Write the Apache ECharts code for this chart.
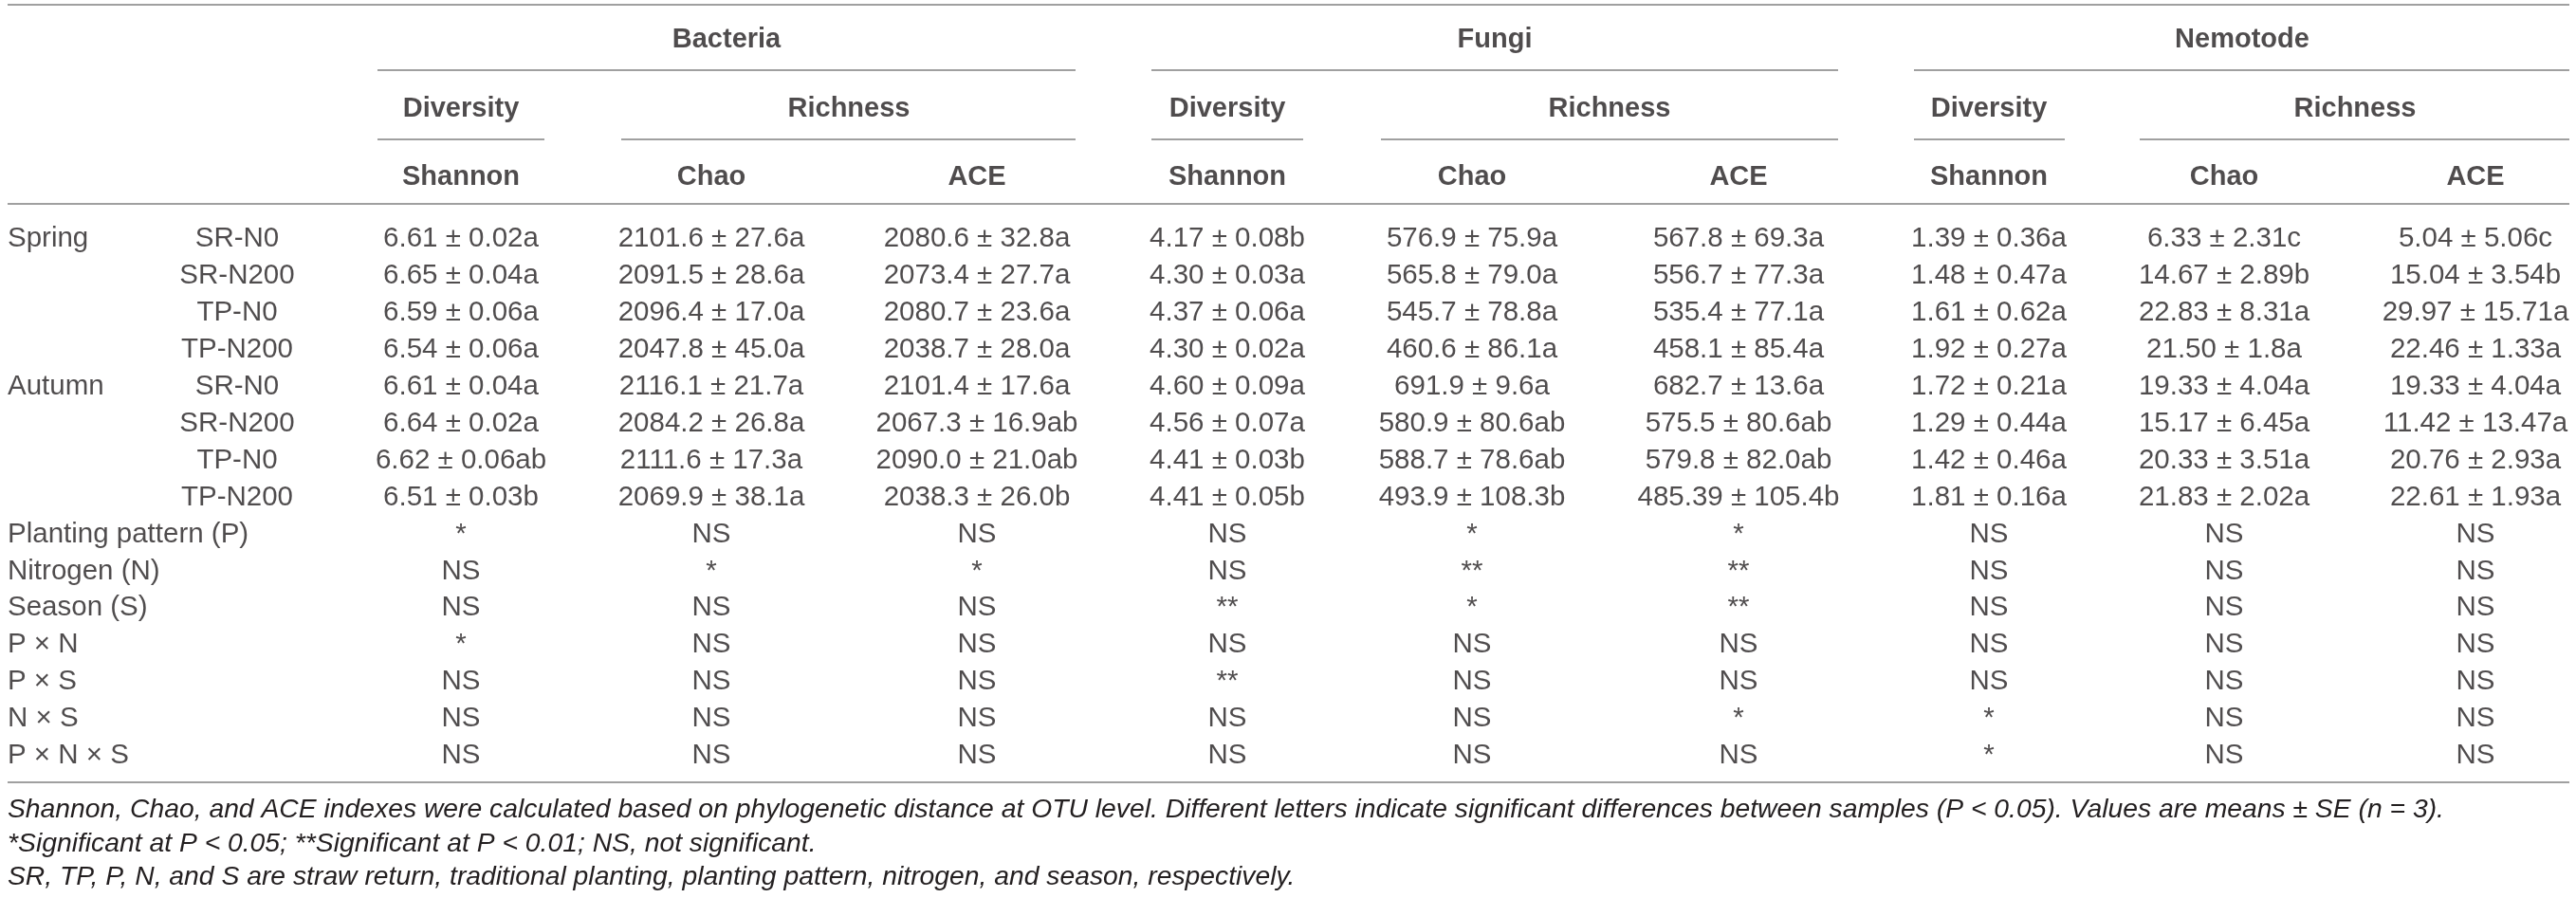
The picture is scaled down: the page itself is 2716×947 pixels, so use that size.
<!DOCTYPE html>
<html>
<head>
<meta charset="utf-8">
<script src="https://cdn.jsdelivr.net/npm/echarts@6/dist/echarts.min.js"></script>
<style>
  html, body { margin: 0; padding: 0; background: #fff; }
  #container { width: 2716px; height: 947px; }
</style>
</head>
<body>
<div id="container"></div>
<script>
// ---- table content ----
var groups = ['Bacteria', 'Fungi', 'Nemotode'];
var subHeads = ['Diversity', 'Richness'];
var indexes = ['Shannon', 'Chao', 'ACE'];
var seasons = ['Spring', 'Autumn'];
var treatments = ['SR-N0', 'SR-N200', 'TP-N0', 'TP-N200'];
var effects = ['Planting pattern (P)', 'Nitrogen (N)', 'Season (S)', 'P \u00d7 N', 'P \u00d7 S', 'N \u00d7 S', 'P \u00d7 N \u00d7 S'];

var bacShannon = ['6.61 ± 0.02a', '6.65 ± 0.04a', '6.59 ± 0.06a', '6.54 ± 0.06a', '6.61 ± 0.04a', '6.64 ± 0.02a', '6.62 ± 0.06ab', '6.51 ± 0.03b'];
var bacChao = ['2101.6 ± 27.6a', '2091.5 ± 28.6a', '2096.4 ± 17.0a', '2047.8 ± 45.0a', '2116.1 ± 21.7a', '2084.2 ± 26.8a', '2111.6 ± 17.3a', '2069.9 ± 38.1a'];
var bacAce = ['2080.6 ± 32.8a', '2073.4 ± 27.7a', '2080.7 ± 23.6a', '2038.7 ± 28.0a', '2101.4 ± 17.6a', '2067.3 ± 16.9ab', '2090.0 ± 21.0ab', '2038.3 ± 26.0b'];
var funShannon = ['4.17 ± 0.08b', '4.30 ± 0.03a', '4.37 ± 0.06a', '4.30 ± 0.02a', '4.60 ± 0.09a', '4.56 ± 0.07a', '4.41 ± 0.03b', '4.41 ± 0.05b'];
var funChao = ['576.9 ± 75.9a', '565.8 ± 79.0a', '545.7 ± 78.8a', '460.6 ± 86.1a', '691.9 ± 9.6a', '580.9 ± 80.6ab', '588.7 ± 78.6ab', '493.9 ± 108.3b'];
var funAce = ['567.8 ± 69.3a', '556.7 ± 77.3a', '535.4 ± 77.1a', '458.1 ± 85.4a', '682.7 ± 13.6a', '575.5 ± 80.6ab', '579.8 ± 82.0ab', '485.39 ± 105.4b'];
var nemShannon = ['1.39 ± 0.36a', '1.48 ± 0.47a', '1.61 ± 0.62a', '1.92 ± 0.27a', '1.72 ± 0.21a', '1.29 ± 0.44a', '1.42 ± 0.46a', '1.81 ± 0.16a'];
var nemChao = ['6.33 ± 2.31c', '14.67 ± 2.89b', '22.83 ± 8.31a', '21.50 ± 1.8a', '19.33 ± 4.04a', '15.17 ± 6.45a', '20.33 ± 3.51a', '21.83 ± 2.02a'];
var nemAce = ['5.04 ± 5.06c', '15.04 ± 3.54b', '29.97 ± 15.71a', '22.46 ± 1.33a', '19.33 ± 4.04a', '11.42 ± 13.47a', '20.76 ± 2.93a', '22.61 ± 1.93a'];

// significance per effect row
var sigBacShannon = ['*', 'NS', 'NS', '*', 'NS', 'NS', 'NS'];
var sigBacChao = ['NS', '*', 'NS', 'NS', 'NS', 'NS', 'NS'];
var sigBacAce = ['NS', '*', 'NS', 'NS', 'NS', 'NS', 'NS'];
var sigFunShannon = ['NS', 'NS', '**', 'NS', '**', 'NS', 'NS'];
var sigFunChao = ['*', '**', '*', 'NS', 'NS', 'NS', 'NS'];
var sigFunAce = ['*', '**', '**', 'NS', 'NS', '*', 'NS'];
var sigNemShannon = ['NS', 'NS', 'NS', 'NS', 'NS', '*', '*'];
var sigNemChao = ['NS', 'NS', 'NS', 'NS', 'NS', 'NS', 'NS'];
var sigNemAce = ['NS', 'NS', 'NS', 'NS', 'NS', 'NS', 'NS'];

var notes = [
  'Shannon, Chao, and ACE indexes were calculated based on phylogenetic distance at OTU level. Different letters indicate significant differences between samples (P < 0.05). Values are means \u00b1 SE (n = 3).',
  '*Significant at P < 0.05; **Significant at P < 0.01; NS, not significant.',
  'SR, TP, P, N, and S are straw return, traditional planting, planting pattern, nitrogen, and season, respectively.'
];

// ---- layout (pixel positions on the x value axis) ----
var labelX = 8;
var treatX = 250;
var colX = [486, 750, 1030, 1294, 1552, 1833, 2097, 2345, 2610];
var groupX = [766, 1576, 2364];
var divX = [486, 1294, 2097];
var richX = [895, 1697, 2483];

var W = 2716, H = 947;
var FONT = 'Liberation Sans';
var INK = '#231f20';
var RULE = '#a0a0a0';

var valueCols = [bacShannon, bacChao, bacAce, funShannon, funChao, funAce, nemShannon, nemChao, nemAce];
var sigCols = [sigBacShannon, sigBacChao, sigBacAce, sigFunShannon, sigFunChao, sigFunAce, sigNemShannon, sigNemChao, sigNemAce];

var headRows = ['group', 'sub', 'index'];
var rowKeys = [];
for (var r = 0; r < treatments.length * seasons.length + effects.length; r++) rowKeys.push('r' + r);

// body cells
var bodyCells = [];
function cell(list, x, row, text, left) {
  list.push({
    value: [x, row],
    name: text,
    label: left ? { position: 'right', distance: 0 } : { position: 'inside' }
  });
}
seasons.forEach(function (s, i) {
  cell(bodyCells, labelX, rowKeys[i * treatments.length], s, true);
  treatments.forEach(function (t, j) {
    cell(bodyCells, treatX, rowKeys[i * treatments.length + j], t, false);
  });
});
valueCols.forEach(function (col, c) {
  col.forEach(function (v, k) { cell(bodyCells, colX[c], rowKeys[k], v, false); });
});
var off = treatments.length * seasons.length;
effects.forEach(function (e, k) { cell(bodyCells, labelX, rowKeys[off + k], e, true); });
sigCols.forEach(function (col, c) {
  col.forEach(function (v, k) { cell(bodyCells, colX[c], rowKeys[off + k], v, false); });
});

// header cells
var headCells = [];
groups.forEach(function (g, i) {
  cell(headCells, groupX[i], 'group', g, false);
  cell(headCells, divX[i], 'sub', subHeads[0], false);
  cell(headCells, richX[i], 'sub', subHeads[1], false);
  indexes.forEach(function (n, j) { cell(headCells, colX[i * 3 + j], 'index', n, false); });
});

// rules
function rule(x1, x2, y) {
  return { type: 'line', silent: true, shape: { x1: x1, y1: y, x2: x2, y2: y }, style: { stroke: RULE, lineWidth: 2 } };
}
var graphics = [
  rule(8, 2709, 5),
  rule(398, 1134, 74), rule(1214, 1938, 74), rule(2018, 2709, 74),
  rule(398, 574, 147), rule(655, 1134, 147),
  rule(1214, 1374, 147), rule(1456, 1938, 147),
  rule(2018, 2177, 147), rule(2256, 2709, 147),
  rule(8, 2709, 215),
  rule(8, 2709, 825)
];
var noteY = [854, 890, 925];
notes.forEach(function (n, i) {
  graphics.push({
    type: 'text', silent: true, left: labelX, top: noteY[i] - 14,
    style: { text: n, fill: INK, font: 'italic 28.3px "' + FONT + '"' }
  });
});

var xAxisBase = { type: 'value', min: 0, max: W, show: false };

var option = {
  backgroundColor: '#fff',
  animation: false,
  grid: [
    { left: 0, width: W, top: 6, height: 217.5 },
    { left: 0, width: W, top: 232.5, height: 584 }
  ],
  xAxis: [
    Object.assign({ gridIndex: 0 }, xAxisBase),
    Object.assign({ gridIndex: 1 }, xAxisBase)
  ],
  yAxis: [
    { gridIndex: 0, type: 'category', data: headRows, inverse: true, show: false },
    { gridIndex: 1, type: 'category', data: rowKeys, inverse: true, show: false }
  ],
  series: [
    {
      type: 'scatter', xAxisIndex: 0, yAxisIndex: 0, silent: true,
      symbolSize: 0, itemStyle: { color: 'rgba(0,0,0,0)' },
      label: { show: true, formatter: '{b}', color: INK, fontFamily: FONT, fontSize: 29, fontWeight: 'bold' },
      data: headCells
    },
    {
      type: 'scatter', xAxisIndex: 1, yAxisIndex: 1, silent: true,
      symbolSize: 0, itemStyle: { color: 'rgba(0,0,0,0)' },
      label: { show: true, formatter: '{b}', color: INK, fontFamily: FONT, fontSize: 29.5 },
      data: bodyCells
    }
  ],
  graphic: graphics
};

echarts.init(document.getElementById('container')).setOption(option);
</script>
</body>
</html>
